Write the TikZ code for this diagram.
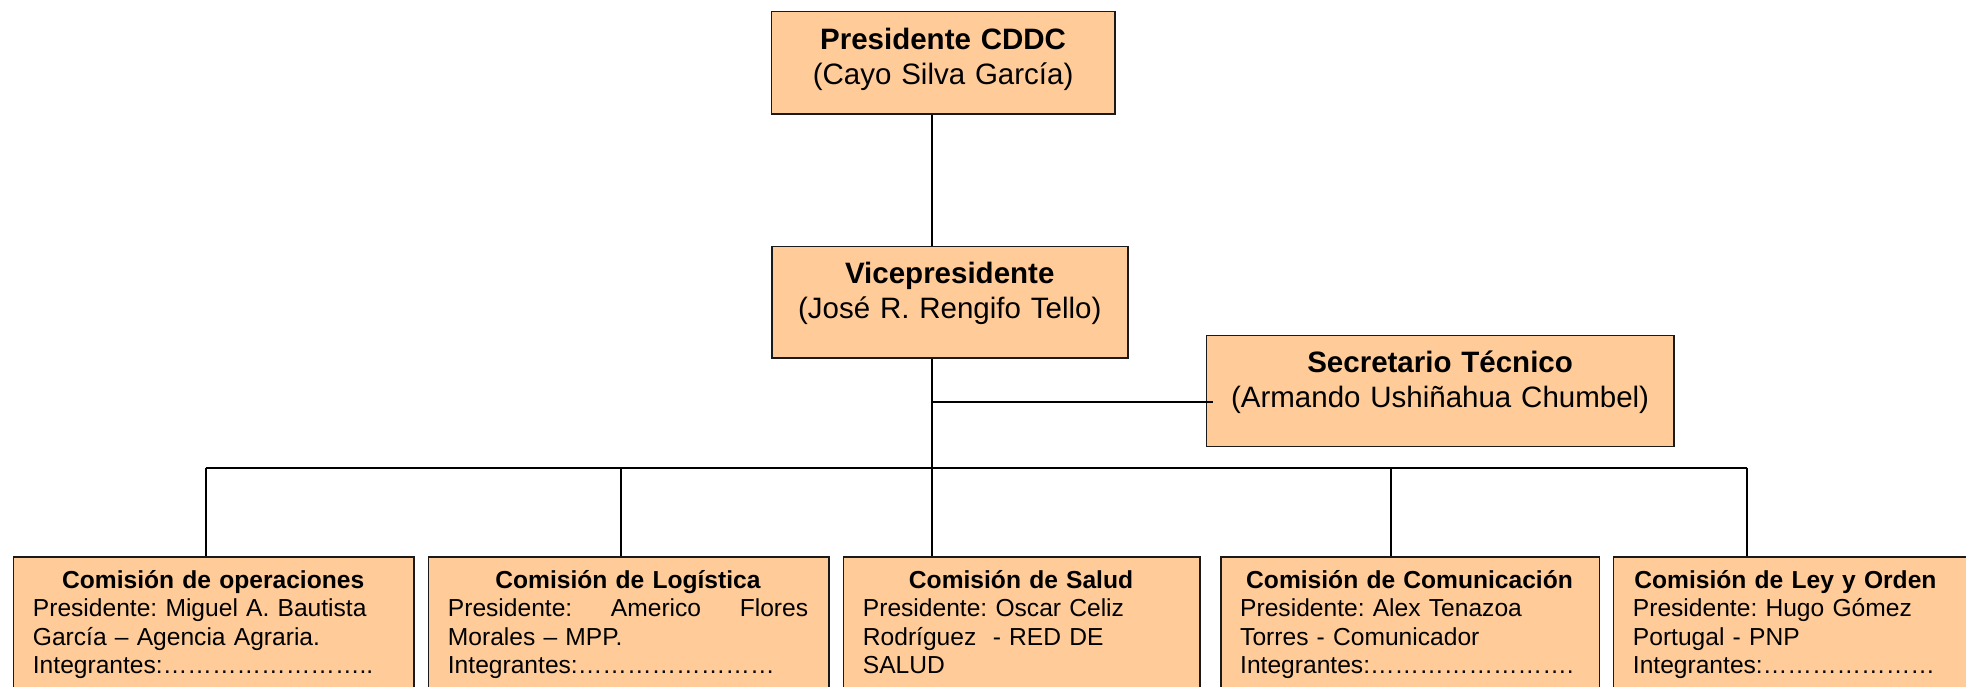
\documentclass[tikz,border=0pt]{standalone}
\usepackage{fontspec}
\setmainfont{Liberation Sans}
\usetikzlibrary{calc}
\definecolor{peach}{HTML}{FFCC99}
\definecolor{edge}{HTML}{1A1A1A}
\frenchspacing
\begin{document}
\begin{tikzpicture}[x=1pt,y=-1pt,
  box/.style={draw=edge, line width=1.5pt, fill=peach, rectangle, inner sep=0pt, anchor=north west},
  toptext/.style={align=center, inner sep=0pt, anchor=base, font=\fontsize{29.5}{35}\selectfont},
  comtext/.style={align=left, inner sep=0pt, anchor=base west, font=\fontsize{24.6}{28.5}\selectfont},
  link/.style={line width=2pt, black}]
\useasboundingbox (0,0) rectangle (1966,687);
\fill[white] (0,0) rectangle (1966,687);
\clip (0,0) rectangle (1966,687);

% top boxes
\node[box, minimum width=343.3pt, minimum height=102.3pt] (pres) at (770.7,11) {};
\node[box, minimum width=356pt, minimum height=111pt] (vice) at (771,246) {};
\node[box, minimum width=467.3pt, minimum height=111pt] (sec) at (1205.7,334.7) {};

\node[toptext, text width=343pt] (presT) at ($(pres.north)+(0,38.5)$) {\textbf{Presidente CDDC}\\(Cayo Silva García)};
\node[toptext, text width=356pt] (viceT) at ($(vice.north)+(0,37.5)$) {\textbf{Vicepresidente}\\(José R. Rengifo Tello)};
\node[toptext, text width=467pt] (secT) at ($(sec.north)+(0,37.5)$) {\textbf{Secretario Técnico}\\(Armando Ushiñahua Chumbel)};

% committee boxes
\node[box, minimum width=400.6pt, minimum height=200pt] (c1) at (12.7,556.3) {};
\node[box, minimum width=400.3pt, minimum height=200pt] (c2) at (427.7,556.3) {};
\node[box, minimum width=356.3pt, minimum height=200pt] (c3) at (842.7,556.3) {};
\node[box, minimum width=378.7pt, minimum height=200pt] (c4) at (1220,556.3) {};
\node[box, minimum width=370pt, minimum height=200pt] (c5) at (1612.7,556.3) {};

\node[comtext, text width=360.6pt] (c1T) at ($(c1.north west)+(20,31.7)$)
  {\makebox[\linewidth]{\textbf{Comisión de operaciones}}\\Presidente: Miguel A. Bautista\\García – Agencia Agraria.\\Integrantes:……………………..};
\node[comtext, text width=360.3pt] (c2T) at ($(c2.north west)+(20,31.7)$)
  {\makebox[\linewidth]{\textbf{Comisión de Logística}}\\\makebox[\linewidth][s]{Presidente:\hfill Americo\hfill Flores}\\Morales – MPP.\\Integrantes:……………………};
\node[comtext, text width=316.3pt] (c3T) at ($(c3.north west)+(20,31.7)$)
  {\makebox[\linewidth]{\textbf{Comisión de Salud}}\\Presidente: Oscar Celiz\\Rodríguez\ \ - RED DE\\SALUD};
\node[comtext, text width=338.7pt] (c4T) at ($(c4.north west)+(20,31.7)$)
  {\makebox[\linewidth]{\textbf{Comisión de Comunicación}}\\Presidente: Alex Tenazoa\\Torres - Comunicador\\Integrantes:…………………….};
\node[comtext, text width=305pt] (c5T) at ($(c5.north west)+(20,31.7)$)
  {\makebox[\linewidth]{\textbf{Comisión de Ley y Orden}}\\Presidente: Hugo Gómez\\Portugal - PNP\\Integrantes:…………………};

% junction points
\coordinate (j) at (932,401.7);
\coordinate (b) at (932,467.7);
\coordinate (d1) at (205.7,467.7);
\coordinate (d2) at (620.7,467.7);
\coordinate (d4) at (1391,467.7);
\coordinate (d5) at (1747,467.7);

% connectors
\draw[link] (pres.south -| j) -- (vice.north -| j);
\draw[link] (vice.south -| j) -- (b);
\draw[link] (j) -- ([xshift=7pt]sec.west |- j);
\draw[link] (d1) -- (d5);
\draw[link] (d1) -- (c1.north -| d1);
\draw[link] (d2) -- (c2.north -| d2);
\draw[link] (b) -- (c3.north -| b);
\draw[link] (d4) -- (c4.north -| d4);
\draw[link] (d5) -- (c5.north -| d5);
\end{tikzpicture}
\end{document}
